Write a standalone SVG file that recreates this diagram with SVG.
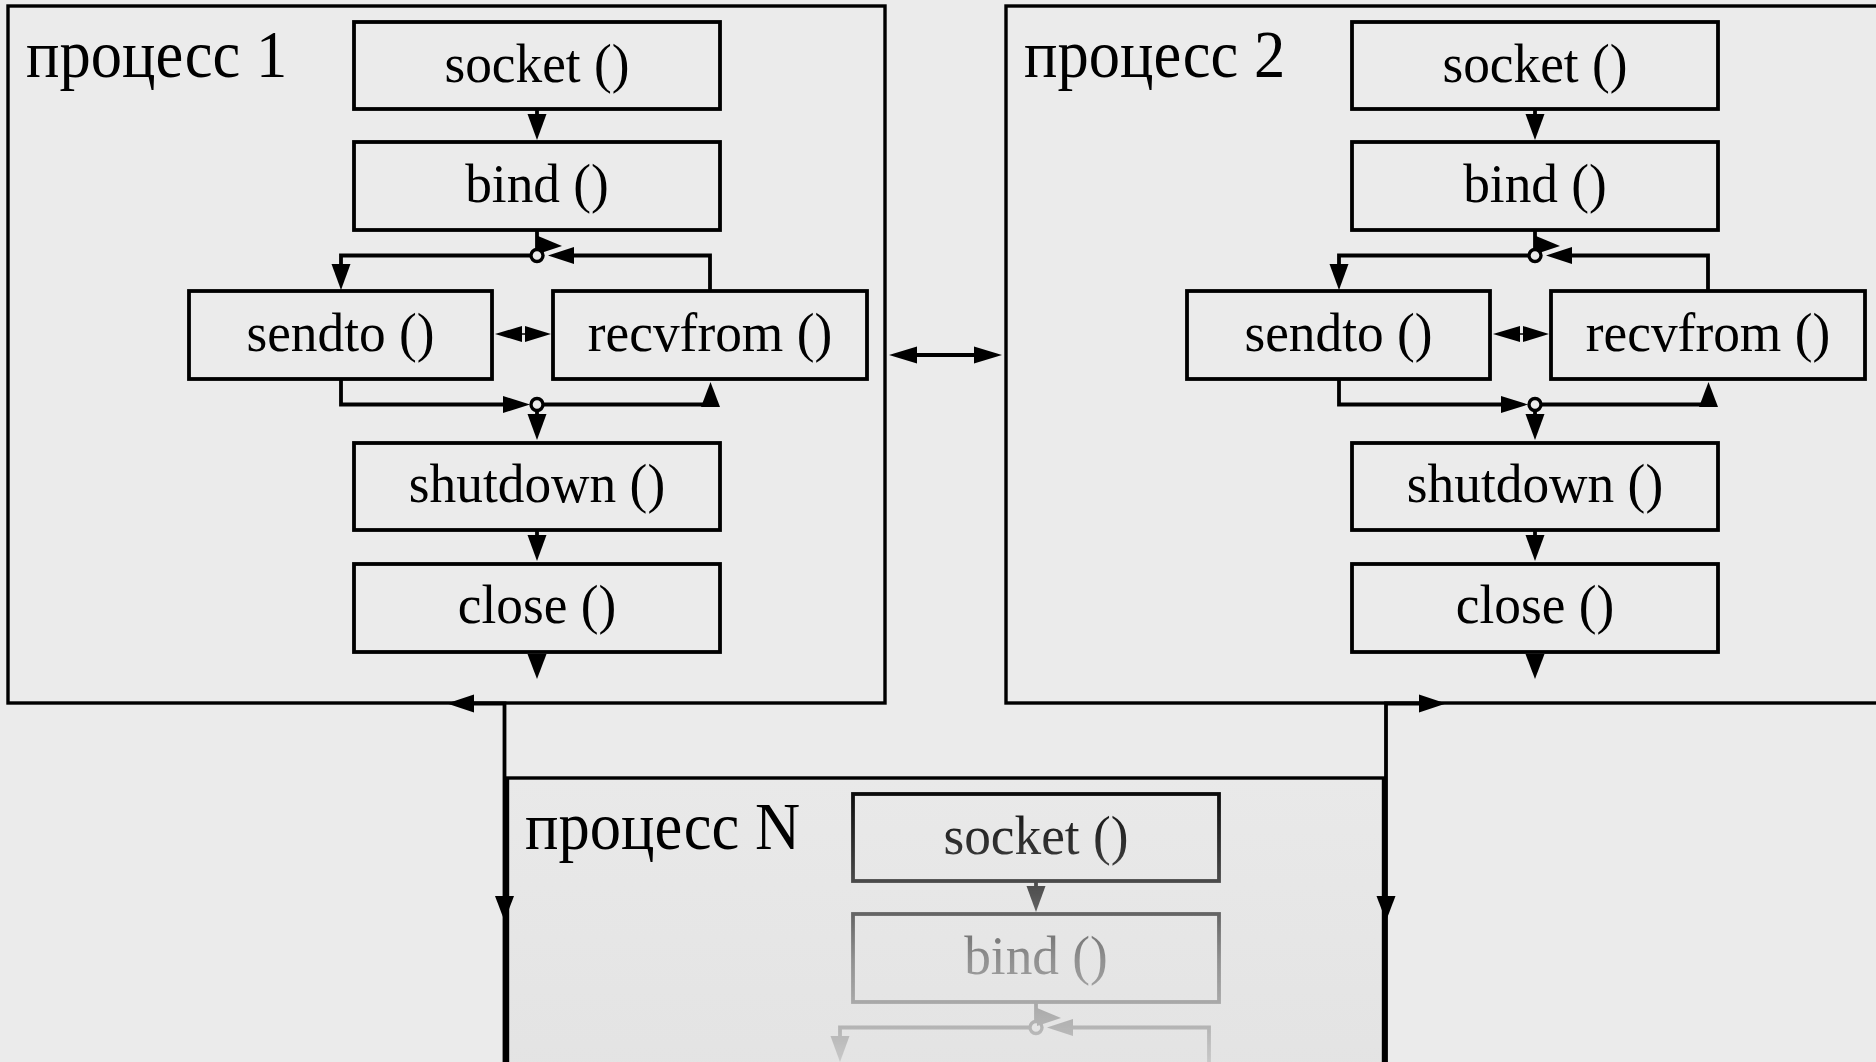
<svg xmlns="http://www.w3.org/2000/svg" width="1876" height="1062" viewBox="0 0 1876 1062">
<style>
  .frame{fill:none;stroke:#000;stroke-width:3.4}
  .box{fill:#ebebeb;stroke:#000;stroke-width:3.8}
  .lbl{font-family:"Liberation Serif","Times New Roman",serif;font-size:55px;text-anchor:middle;fill:#000;transform-box:fill-box;transform-origin:center;transform:scaleX(0.97)}
  .title{font-family:"Liberation Serif","Times New Roman",serif;font-size:68px;fill:#000;transform-box:fill-box;transform-origin:left center;transform:scaleX(0.92)}
  .ln{fill:none;stroke:#000;stroke-width:3.8}
  .ah{fill:#000;stroke:none}
  .jn{fill:#ebebeb;stroke:#000;stroke-width:3.4}
</style>
<defs>
  <linearGradient id="fadeGrad" gradientUnits="userSpaceOnUse" x1="0" y1="780" x2="0" y2="1062">
    <stop offset="0" stop-color="#fff" stop-opacity="1"/>
    <stop offset="0.05" stop-color="#fff" stop-opacity="0.95"/>
    <stop offset="0.25" stop-color="#fff" stop-opacity="0.78"/>
    <stop offset="0.36" stop-color="#fff" stop-opacity="0.68"/>
    <stop offset="0.48" stop-color="#fff" stop-opacity="0.56"/>
    <stop offset="0.64" stop-color="#fff" stop-opacity="0.37"/>
    <stop offset="0.78" stop-color="#fff" stop-opacity="0.27"/>
    <stop offset="0.89" stop-color="#fff" stop-opacity="0.2"/>
    <stop offset="1" stop-color="#fff" stop-opacity="0.12"/>
  </linearGradient>
  <mask id="fadeMask" maskUnits="userSpaceOnUse" x="0" y="0" width="1876" height="1062">
    <rect x="0" y="0" width="1876" height="1062" fill="url(#fadeGrad)"/>
  </mask>
  <linearGradient id="nBg" x1="0" y1="0" x2="0" y2="1">
    <stop offset="0" stop-color="#e9e9e9"/>
    <stop offset="1" stop-color="#e3e3e3"/>
  </linearGradient>
</defs>
<rect x="0" y="0" width="1876" height="1062" fill="#ebebeb"/>

<!-- Process frames -->
<g id="process-1">
  <rect class="frame" x="8" y="6" width="877" height="697"/>
  <text class="title" x="26" y="77">процесс 1</text>
</g>
<g id="process-2">
  <rect class="frame" x="1006" y="6" width="900" height="697"/>
  <text class="title" x="1024" y="77">процесс 2</text>
</g>
<g id="process-N">
  <rect x="507.5" y="778" width="876" height="320" fill="url(#nBg)" stroke="#000" stroke-width="3.4"/>
  <text class="title" x="525" y="849">процесс N</text>
</g>

<!-- Process 1 flow -->
<g id="p1-flow">
  <g id="p1-socket"><rect class="box" x="354" y="22" width="366" height="87"/><text class="lbl" x="537" y="82">socket ()</text></g>
  <g id="p1-bind"><rect class="box" x="354" y="142" width="366" height="88"/><text class="lbl" x="537" y="202">bind ()</text></g>
  <g id="p1-sendto"><rect class="box" x="189" y="291" width="303" height="88"/><text class="lbl" x="340.5" y="351">sendto ()</text></g>
  <g id="p1-recvfrom"><rect class="box" x="553" y="291" width="314" height="88"/><text class="lbl" x="710" y="351">recvfrom ()</text></g>
  <g id="p1-shutdown"><rect class="box" x="354" y="443" width="366" height="87"/><text class="lbl" x="537" y="502">shutdown ()</text></g>
  <g id="p1-close"><rect class="box" x="354" y="564" width="366" height="88"/><text class="lbl" x="537" y="623">close ()</text></g>
  <g id="p1-connectors">
    <path class="ln" d="M537,109 V116"/><polygon class="ah" points="527.5,114 546.5,114 537,140"/>
    <path class="ln" d="M537,230 V250"/><polygon class="ah" points="538,236 562,246 538,254"/>
    <path class="ln" d="M531,255.5 H341 V266"/><polygon class="ah" points="331.5,264 350.5,264 341,290"/>
    <path class="ln" d="M710,291 V255.5 H570"/><polygon class="ah" points="574,247 574,264 548,255.5"/>
    <circle class="jn" cx="537" cy="255.5" r="6"/>
    <path class="ln" d="M341,379 V404.5 H506"/><polygon class="ah" points="503,396 503,413 530,404.5"/>
    <path class="ln" d="M543,404.5 H711"/><polygon class="ah" points="701,407 720,407 710.5,382"/>
    <path class="ln" d="M537,410 V416"/><polygon class="ah" points="527.5,414 546.5,414 537,440"/>
    <circle class="jn" cx="537" cy="404.5" r="6"/>
    <path class="ln" d="M537,530 V537"/><polygon class="ah" points="527.5,535 546.5,535 537,561"/>
    <polygon class="ah" points="527.5,654 546.5,654 537,679"/>
    <path d="M520,334 H527" stroke="#000" stroke-width="1.5"/>
    <polygon class="ah" points="495,334 522,326 522,342"/>
    <polygon class="ah" points="551,334 525,326 525,342"/>
  </g>
</g>

<!-- Process 2 flow -->
<g id="p2-flow" transform="translate(998,0)">
  <g id="p2-socket"><rect class="box" x="354" y="22" width="366" height="87"/><text class="lbl" x="537" y="82">socket ()</text></g>
  <g id="p2-bind"><rect class="box" x="354" y="142" width="366" height="88"/><text class="lbl" x="537" y="202">bind ()</text></g>
  <g id="p2-sendto"><rect class="box" x="189" y="291" width="303" height="88"/><text class="lbl" x="340.5" y="351">sendto ()</text></g>
  <g id="p2-recvfrom"><rect class="box" x="553" y="291" width="314" height="88"/><text class="lbl" x="710" y="351">recvfrom ()</text></g>
  <g id="p2-shutdown"><rect class="box" x="354" y="443" width="366" height="87"/><text class="lbl" x="537" y="502">shutdown ()</text></g>
  <g id="p2-close"><rect class="box" x="354" y="564" width="366" height="88"/><text class="lbl" x="537" y="623">close ()</text></g>
  <g id="p2-connectors">
    <path class="ln" d="M537,109 V116"/><polygon class="ah" points="527.5,114 546.5,114 537,140"/>
    <path class="ln" d="M537,230 V250"/><polygon class="ah" points="538,236 562,246 538,254"/>
    <path class="ln" d="M531,255.5 H341 V266"/><polygon class="ah" points="331.5,264 350.5,264 341,290"/>
    <path class="ln" d="M710,291 V255.5 H570"/><polygon class="ah" points="574,247 574,264 548,255.5"/>
    <circle class="jn" cx="537" cy="255.5" r="6"/>
    <path class="ln" d="M341,379 V404.5 H506"/><polygon class="ah" points="503,396 503,413 530,404.5"/>
    <path class="ln" d="M543,404.5 H711"/><polygon class="ah" points="701,407 720,407 710.5,382"/>
    <path class="ln" d="M537,410 V416"/><polygon class="ah" points="527.5,414 546.5,414 537,440"/>
    <circle class="jn" cx="537" cy="404.5" r="6"/>
    <path class="ln" d="M537,530 V537"/><polygon class="ah" points="527.5,535 546.5,535 537,561"/>
    <polygon class="ah" points="527.5,654 546.5,654 537,679"/>
    <path d="M520,334 H527" stroke="#000" stroke-width="1.5"/>
    <polygon class="ah" points="495,334 522,326 522,342"/>
    <polygon class="ah" points="551,334 525,326 525,342"/>
  </g>
</g>

<!-- Process N flow (fading) -->
<g id="pN-flow-fade" mask="url(#fadeMask)">
  <g id="pN-flow" transform="translate(499,772)">
    <g id="pN-socket"><rect class="box" x="354" y="22" width="366" height="87" style="fill:none"/><text class="lbl" x="537" y="82">socket ()</text></g>
    <g id="pN-bind"><rect class="box" x="354" y="142" width="366" height="88" style="fill:none"/><text class="lbl" x="537" y="202">bind ()</text></g>
    <g id="pN-connectors">
      <path class="ln" d="M537,109 V116"/><polygon class="ah" points="527.5,114 546.5,114 537,140"/>
      <path class="ln" d="M537,230 V250"/><polygon class="ah" points="538,236 562,246 538,254"/>
      <path class="ln" d="M531,255.5 H341 V266"/><polygon class="ah" points="331.5,264 350.5,264 341,290"/>
      <path class="ln" d="M710,291 V255.5 H570"/><polygon class="ah" points="574,247 574,264 548,255.5"/>
      <circle cx="537" cy="255.5" r="6" fill="none" stroke="#000" stroke-width="3.4"/>
    </g>
  </g>
</g>

<!-- Inter-process connectors -->
<g id="connectors">
  <path class="ln" d="M915,355 H976"/>
  <polygon class="ah" points="889,355 917,346.5 917,363.5"/>
  <polygon class="ah" points="1002,355 974,346.5 974,363.5"/>
  <path class="ln" d="M470,703.5 H504.5 V1062"/>
  <polygon class="ah" points="447,703.5 474,694.5 474,712.5"/>
  <polygon class="ah" points="495,896 514,896 504.5,921"/>
  <path class="ln" d="M1420,703.5 H1386 V1062"/>
  <polygon class="ah" points="1446,703.5 1419,694.5 1419,712.5"/>
  <polygon class="ah" points="1376.5,896 1395.5,896 1386,921"/>
</g>
</svg>
